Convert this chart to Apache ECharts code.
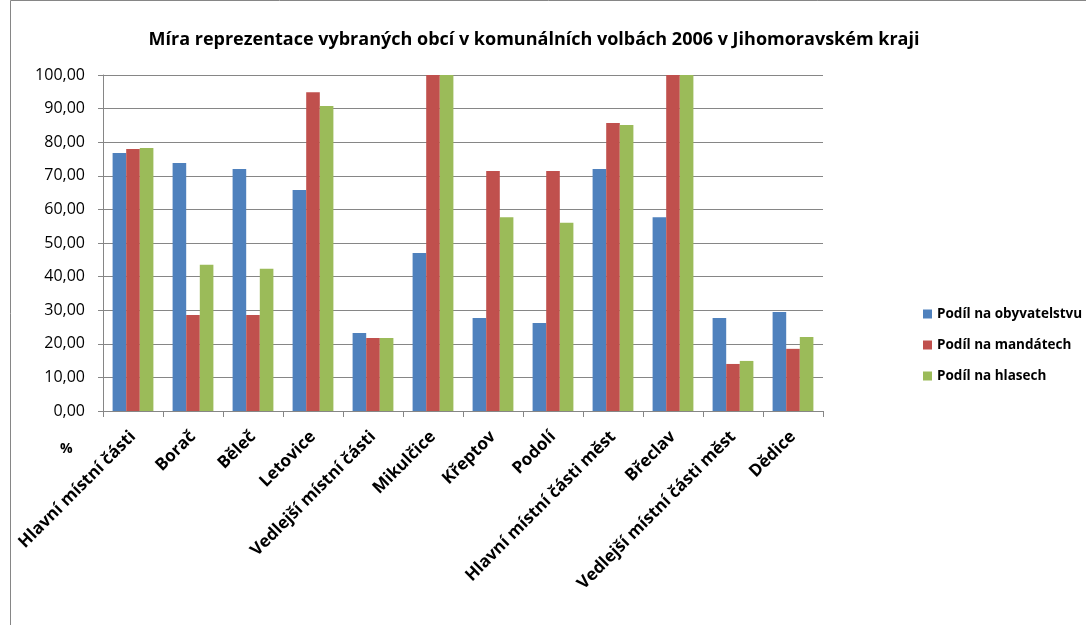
<!DOCTYPE html>
<html><head><meta charset="utf-8">
<script src="https://cdn.jsdelivr.net/npm/echarts@6/dist/echarts.min.js"></script>
<style>html,body{margin:0;padding:0;background:#fff}#c{width:1086px;height:625px}</style>
</head><body><div id="c"></div>
<script>
const categories = ["Hlavní místní části","Borač","Běleč","Letovice","Vedlejší místní části","Mikulčice","Křeptov","Podolí","Hlavní místní části měst","Břeclav","Vedlejší místní části měst","Dědice"];
const obyvatelstvo = [76.8, 73.8, 72.0, 65.8, 23.2, 47.0, 27.7, 26.2, 72.0, 57.7, 27.7, 29.5];
const mandaty = [78.0, 28.6, 28.6, 94.9, 21.7, 100, 71.4, 71.4, 85.7, 100, 14.0, 18.5];
const hlasy = [78.3, 43.5, 42.3, 90.8, 21.7, 100, 57.7, 56.0, 85.1, 100, 14.9, 22.0];
const seriesNames = ["Podíl na obyvatelstvu","Podíl na mandátech","Podíl na hlasech"];
const colors = ["#4F81BD","#C0504D","#9BBB59"];
const font = "'Open Sans', 'DejaVu Sans', sans-serif";

const chart = echarts.init(document.getElementById('c'));
chart.setOption({
  animation: false,
  color: colors,
  title: {
    text: "Míra reprezentace vybraných obcí v komunálních volbách 2006 v Jihomoravském kraji",
    left: 529, top: 26, textAlign: 'center',
    textStyle: {fontFamily: font, fontSize: 18, fontWeight: 'bold', color: '#000'}
  },
  legend: {
    orient: 'vertical', left: 918, top: 302, itemGap: 17,
    itemWidth: 9, itemHeight: 9, icon: 'rect',
    textStyle: {fontFamily: font, fontSize: 13.5, fontWeight: 'bold', color: '#000'},
    data: seriesNames
  },
  grid: {left: 103, right: 263, top: 75, bottom: 214, containLabel: false},
  xAxis: {
    type: 'category', data: categories,
    axisLine: {lineStyle: {color: '#868686'}},
    axisTick: {show: true, length: 6, lineStyle: {color: '#868686'}},
    axisLabel: {rotate: 45, interval: 0, margin: 23, fontFamily: font, fontSize: 17, fontWeight: 'bold', color: '#000'}
  },
  yAxis: {
    type: 'value', min: 0, max: 100, interval: 10,
    axisLine: {show: true, lineStyle: {color: '#868686'}},
    axisTick: {show: true, length: 5, lineStyle: {color: '#868686'}},
    splitLine: {lineStyle: {color: '#868686', width: 1}},
    axisLabel: {margin: 18, fontFamily: font, fontSize: 16, color: '#000',
      formatter: v => v.toFixed(2).replace('.', ',')}
  },
  graphic: [
    {type: 'rect', shape: {x: 10.5, y: 0.5, width: 1080, height: 640}, style: {fill: 'none', stroke: '#868686', lineWidth: 1}, silent: true},
    {type: 'text', left: 60, top: 442, style: {text: '%', fontFamily: font, fontSize: 14, fontWeight: 'bold', fill: '#000'}}
  ],
  series: [
    {name: seriesNames[0], type: 'bar', data: obyvatelstvo, barGap: '0%', barCategoryGap: '32%'},
    {name: seriesNames[1], type: 'bar', data: mandaty},
    {name: seriesNames[2], type: 'bar', data: hlasy}
  ]
});
</script></body></html>
